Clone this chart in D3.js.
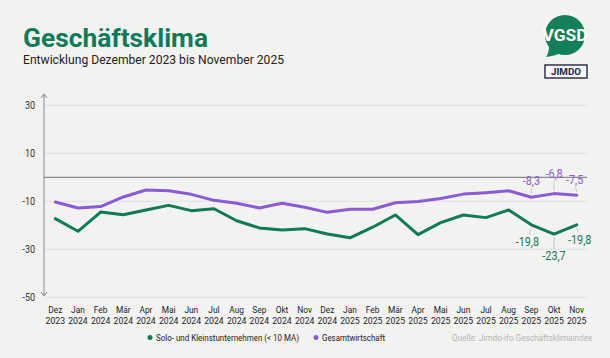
<!DOCTYPE html>
<html><head><meta charset="utf-8">
<script src="https://cdn.jsdelivr.net/npm/d3@7"></script>
<style>
html,body{margin:0;padding:0;background:#f2f2f1;}
svg{display:block;font-family:Roboto,"Liberation Sans",Arial,sans-serif;}
</style></head>
<body>
<svg id="chart" width="610" height="358"></svg>
<script>
const months = ["Dez","Jan","Feb","Mär","Apr","Mai","Jun","Jul","Aug","Sep","Okt","Nov","Dez","Jan","Feb","Mär","Apr","Mai","Jun","Jul","Aug","Sep","Okt","Nov"];
const years = ["2023","2024","2024","2024","2024","2024","2024","2024","2024","2024","2024","2024","2024","2025","2025","2025","2025","2025","2025","2025","2025","2025","2025","2025"];
const solo = [-17.2,-22.5,-14.5,-15.6,-13.6,-11.7,-13.9,-13.1,-18.1,-21.1,-22.0,-21.4,-23.6,-25.2,-20.8,-15.7,-23.9,-18.9,-15.7,-16.8,-13.6,-19.8,-23.7,-19.8];
const gesamt = [-10.3,-12.8,-12.2,-8.2,-5.3,-5.6,-7.1,-9.6,-10.8,-12.8,-10.8,-12.5,-14.6,-13.3,-13.3,-10.6,-10.1,-8.8,-7.0,-6.4,-5.6,-8.3,-6.8,-7.5];
const yTicks = [30,10,-10,-30,-50];
const seriesNames = ["Solo- und Kleinstunternehmen (< 10 MA)","Gesamtwirtschaft"];
const labelledIdx = [21,22,23];

const GREEN = "#0f7a58", PURPLE = "#8a5bd4";
const svg = d3.select("#chart");
const keys = months.map((m,i)=>i);
const x = d3.scalePoint().domain(keys).range([55.3,576.7]);
const y = d3.scaleLinear().domain([-50,30]).range([297.3,105.3]);
const fmt = v => v.toFixed(1).replace(".",",");
function fit(sel, w){ sel.attr("textLength",w).attr("lengthAdjust","spacingAndGlyphs"); return sel; }
function squeeze(sel, f){ sel.each(function(){ const L=this.getComputedTextLength(); d3.select(this).attr("textLength",L*f).attr("lengthAdjust","spacingAndGlyphs"); }); }

// title
fit(svg.append("text").attr("x",23).attr("y",47).attr("fill",GREEN)
  .attr("font-size",26).attr("font-weight",700).text("Geschäftsklima"),185);
fit(svg.append("text").attr("x",23).attr("y",64).attr("fill","#222")
  .attr("font-size",13).text("Entwicklung Dezember 2023 bis November 2025"),261);

// logo
const logo = svg.append("g");
logo.append("circle").attr("cx",565).attr("cy",35).attr("r",20).attr("fill","#138059");
logo.append("path").attr("d","M549,46 Q549,53 546,57 Q556,56 562,52 Z").attr("fill","#138059");
fit(logo.append("text").attr("x",565).attr("y",41).attr("text-anchor","middle").attr("fill","#fff")
  .attr("font-size",17).attr("font-weight",700).text("VGSD"),45);
logo.append("rect").attr("x",545).attr("y",65).attr("width",42).attr("height",13)
  .attr("fill","#fafafa").attr("stroke","#1e2448").attr("stroke-width",1.4);
fit(logo.append("text").attr("x",566).attr("y",75).attr("text-anchor","middle").attr("fill","#1e2448")
  .attr("font-size",9).attr("font-weight",700).text("JIMDO"),30);

// grid
const grid = svg.append("g");
grid.selectAll("line").data(yTicks).join("line")
  .attr("x1",44).attr("x2",587).attr("y1",d=>y(d)).attr("y2",d=>y(d))
  .attr("stroke","#e2e2e0").attr("stroke-width",1);
svg.append("line").attr("x1",44).attr("x2",587).attr("y1",y(0)).attr("y2",y(0))
  .attr("stroke","#8a8a8a").attr("stroke-width",1.2);

// y axis
const yAxis = d3.axisLeft(y).tickValues(yTicks).tickSize(0).tickPadding(9).tickFormat(d=>String(d));
const yg = svg.append("g").attr("transform","translate(44,0)").call(yAxis);
yg.select(".domain").remove();
yg.selectAll("text").attr("font-size",10).attr("fill","#333").attr("font-family","Roboto,Arial,sans-serif");
squeeze(yg.selectAll("text"),0.9);
const ax = svg.append("g").attr("stroke","#888").attr("stroke-width",1).attr("fill","none");
ax.append("line").attr("x1",44).attr("x2",44).attr("y1",94).attr("y2",296);
ax.append("path").attr("d","M41,98 L44,94 L47,98");
ax.append("path").attr("d","M41,292 L44,296 L47,292");

// x axis labels
const xg = svg.append("g").attr("font-size",9.5).attr("fill","#222");
xg.selectAll("text.m").data(keys).join("text").attr("class","m")
  .attr("x",d=>x(d)).attr("y",313).attr("text-anchor","middle").text(d=>months[d]);
xg.selectAll("text.yr").data(keys).join("text").attr("class","yr")
  .attr("x",d=>x(d)).attr("y",324).attr("text-anchor","middle").text(d=>years[d]);
squeeze(xg.selectAll("text.m"),0.88);
xg.selectAll("text.yr").attr("textLength",19.5).attr("lengthAdjust","spacingAndGlyphs");

// lines
const line = d3.line().x((d,i)=>x(i)).y(d=>y(d)).curve(d3.curveLinear);
[[gesamt,PURPLE],[solo,GREEN]].forEach(([data,c])=>{
  svg.append("path").datum(data).attr("d",line).attr("fill","none")
    .attr("stroke",c).attr("stroke-width",3).attr("stroke-linejoin","round").attr("stroke-linecap","round");
});

// annotations
const ann = svg.append("g");
const gOff = [[0,-16],[0,-20],[-2,-15]];
const sOff = [[-4,21],[0,26],[3,19]];
labelledIdx.forEach((idx,k)=>{
  const px = x(idx), pyG = y(gesamt[idx]), pyS = y(solo[idx]);
  const [gx,gy] = gOff[k], [sx,sy] = sOff[k];
  ann.append("line").attr("x1",px).attr("y1",pyG-3).attr("x2",px+gx*0.5).attr("y2",pyG+gy+7)
    .attr("stroke","#bbb").attr("stroke-width",0.8);
  ann.append("text").attr("x",px+gx).attr("y",pyG+gy+4).attr("text-anchor","middle")
    .attr("font-size",12).attr("fill",PURPLE).text(fmt(gesamt[idx]));
  ann.append("line").attr("x1",px).attr("y1",pyS+3).attr("x2",px+sx*0.5).attr("y2",pyS+sy-11)
    .attr("stroke","#bbb").attr("stroke-width",0.8);
  ann.append("text").attr("x",px+sx).attr("y",pyS+sy).attr("text-anchor","middle")
    .attr("font-size",12).attr("fill",GREEN).text(fmt(solo[idx]));
});
squeeze(ann.selectAll("text"),0.9);

// legend
const leg = svg.append("g");
leg.append("circle").attr("cx",150).attr("cy",337.5).attr("r",2.5).attr("fill",GREEN);
fit(leg.append("text").attr("x",156).attr("y",341).attr("font-size",9.5).attr("fill","#222").text(seriesNames[0]),143);
leg.append("circle").attr("cx",316).attr("cy",337.5).attr("r",2.5).attr("fill",PURPLE);
fit(leg.append("text").attr("x",322).attr("y",341).attr("font-size",9.5).attr("fill","#222").text(seriesNames[1]),63);
svg.append("text").attr("x",452).attr("y",341).attr("font-size",8.2)
  .attr("fill","#b5b5b5").text("Quelle: Jimdo-ifo Geschäftsklimaindex");
</script>
</body></html>
